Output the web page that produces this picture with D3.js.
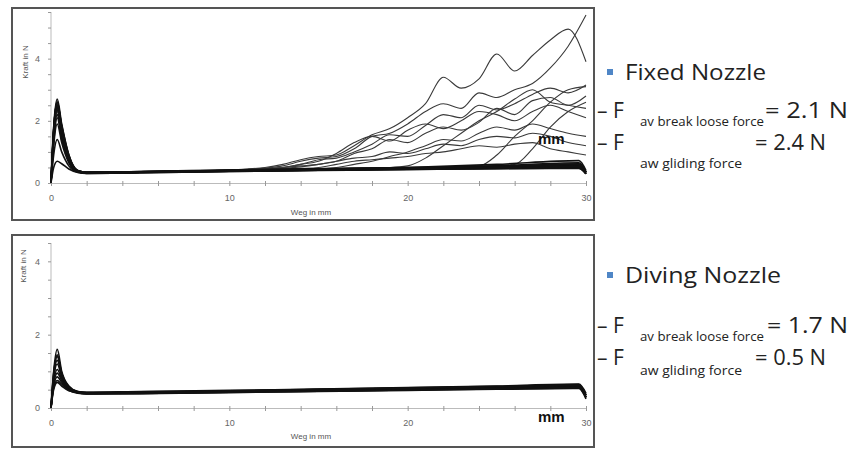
<!DOCTYPE html>
<html lang="de">
<head>
<meta charset="UTF-8">
<title>Fixed vs Diving Nozzle</title>
<style>
  body { margin: 0; background: #fff; }
  svg { display: block; font-family: "Open Sans", "Noto Sans", sans-serif; }
  .tick text { fill: #666; font-size: 9px; font-family: "Liberation Sans", Arial, sans-serif; }
  .tick line { stroke: #999; }
  .domain { stroke: #bbb; }
</style>
</head>
<body>
<svg id="chart" width="865" height="450"></svg>
<script src="https://d3js.org/d3.v7.min.js"></script>
<script>
// x grid (mm) for the bundle curves and for the curves that break away
const wegA = [0, 0.15, 0.35, 0.6, 1.0, 1.5, 2, 5, 10, 15, 20, 25, 29.6, 30];
const wegB = [0, 0.15, 0.35, 0.6, 1.0, 1.5, 2, 5, 10, 11, 12, 13, 14, 15, 16, 17, 18, 19, 20,
              21, 22, 23, 24, 25, 26, 27, 28, 29, 30];

// Fixed nozzle - main bundle (Kraft in N)
const fixedBundle = [
  [0, 1.8, 2.7, 1.9, 0.9, 0.4, 0.34, 0.36, 0.40, 0.43, 0.46, 0.48, 0.50, 0.32],
  [0, 1.7, 2.6, 1.8, 0.85, 0.38, 0.33, 0.35, 0.39, 0.42, 0.45, 0.47, 0.49, 0.3],
  [0, 1.6, 2.5, 1.7, 0.8, 0.37, 0.32, 0.34, 0.38, 0.41, 0.44, 0.47, 0.48, 0.3],
  [0, 1.6, 2.45, 1.75, 0.8, 0.39, 0.35, 0.37, 0.41, 0.45, 0.48, 0.52, 0.55, 0.35],
  [0, 1.5, 2.35, 1.6, 0.75, 0.36, 0.31, 0.33, 0.37, 0.40, 0.43, 0.46, 0.47, 0.3],
  [0, 1.4, 2.2, 1.5, 0.7, 0.38, 0.34, 0.36, 0.40, 0.44, 0.47, 0.51, 0.58, 0.35],
  [0, 1.3, 2.1, 1.4, 0.7, 0.37, 0.33, 0.35, 0.39, 0.43, 0.47, 0.55, 0.65, 0.35],
  [0, 1.2, 1.9, 1.3, 0.65, 0.36, 0.32, 0.35, 0.40, 0.45, 0.50, 0.60, 0.72, 0.4],
  [0, 0.9, 1.4, 1.0, 0.55, 0.35, 0.32, 0.34, 0.38, 0.42, 0.46, 0.52, 0.62, 0.35],
  [0, 0.5, 0.7, 0.62, 0.45, 0.34, 0.31, 0.33, 0.37, 0.41, 0.44, 0.48, 0.52, 0.3],
  [0, 1.75, 2.55, 1.85, 0.9, 0.4, 0.35, 0.37, 0.42, 0.46, 0.50, 0.54, 0.60, 0.35],
  [0, 1.65, 2.4, 1.65, 0.8, 0.37, 0.33, 0.35, 0.39, 0.43, 0.47, 0.50, 0.53, 0.3]
];

// Fixed nozzle - curves that rise after ~12 mm
const fixedRising = [
  [0, 1.8, 2.6, 1.8, 0.85, 0.39, 0.34, 0.37, 0.42, 0.45, 0.5, 0.6, 0.75, 0.85, 0.9, 1.2, 1.55, 1.75, 2.1, 2.55, 3.4, 3.05, 3.35, 4.15, 3.6, 4.1, 4.6, 4.95, 3.9],
  [0, 1.6, 2.4, 1.7, 0.8, 0.37, 0.33, 0.36, 0.42, 0.44, 0.48, 0.55, 0.7, 0.8, 0.85, 1.1, 1.5, 1.6, 1.9, 2.3, 2.55, 2.4, 2.9, 2.75, 3.0, 3.2, 3.7, 4.4, 5.4],
  [0, 1.5, 2.3, 1.6, 0.75, 0.36, 0.32, 0.35, 0.40, 0.42, 0.45, 0.5, 0.6, 0.75, 0.8, 1.0, 1.25, 1.55, 1.5, 1.85, 2.2, 2.1, 2.5, 2.35, 2.55, 2.85, 3.05, 2.9, 3.15],
  [0, 1.7, 2.5, 1.7, 0.8, 0.38, 0.33, 0.36, 0.41, 0.43, 0.46, 0.5, 0.6, 0.7, 0.95, 1.3, 1.5, 1.35, 1.7, 1.9, 1.75, 2.0, 2.3, 2.2, 2.0, 2.3, 2.5, 2.3, 2.1],
  [0, 1.4, 2.2, 1.5, 0.7, 0.37, 0.33, 0.35, 0.40, 0.42, 0.44, 0.47, 0.52, 0.6, 0.7, 0.95, 1.1, 1.4, 1.3, 1.6, 1.8, 1.7, 1.95, 2.4, 2.2, 2.65, 2.75, 2.5, 2.8],
  [0, 1.6, 2.45, 1.7, 0.8, 0.38, 0.34, 0.36, 0.41, 0.43, 0.46, 0.5, 0.55, 0.6, 0.7, 0.8, 0.85, 1.0, 0.95, 1.1, 1.25, 1.2, 1.4, 1.5, 1.45, 1.6, 1.5, 1.3, 1.2],
  [0, 1.5, 2.3, 1.6, 0.75, 0.37, 0.33, 0.35, 0.40, 0.41, 0.43, 0.45, 0.47, 0.5, 0.6, 0.7, 0.75, 0.8, 0.85, 0.95, 1.0, 1.1, 1.2, 1.15, 1.25, 1.3, 1.1, 1.0, 0.9],
  [0, 1.7, 2.55, 1.8, 0.85, 0.39, 0.34, 0.36, 0.40, 0.42, 0.43, 0.44, 0.45, 0.46, 0.47, 0.48, 0.49, 0.5, 0.55, 0.8, 1.2, 1.6, 2.0, 2.3, 2.7, 3.0, 2.6, 2.5, 2.4],
  [0, 1.6, 2.4, 1.7, 0.8, 0.37, 0.33, 0.35, 0.39, 0.40, 0.41, 0.42, 0.43, 0.44, 0.45, 0.46, 0.47, 0.48, 0.49, 0.5, 0.52, 0.54, 0.55, 0.9, 1.5, 2.0, 2.6, 3.0, 3.1],
  [0, 1.5, 2.35, 1.6, 0.75, 0.36, 0.32, 0.34, 0.38, 0.39, 0.40, 0.41, 0.42, 0.43, 0.44, 0.45, 0.46, 0.47, 0.48, 0.49, 0.5, 0.52, 0.54, 0.56, 0.6, 1.1, 1.8, 2.3, 2.6],
  [0, 1.8, 2.65, 1.85, 0.9, 0.4, 0.35, 0.37, 0.42, 0.43, 0.44, 0.45, 0.46, 0.47, 0.5, 0.6, 0.7, 0.85, 1.0, 1.2, 1.4, 1.35, 1.6, 1.8, 1.7, 1.9, 1.75, 1.6, 1.5]
];

// Diving nozzle - all curves stay low
const divingBundle = [
  [0, 1.0, 1.6, 1.0, 0.6, 0.45, 0.42, 0.43, 0.46, 0.50, 0.54, 0.58, 0.62, 0.35],
  [0, 0.9, 1.45, 0.95, 0.58, 0.44, 0.41, 0.42, 0.45, 0.49, 0.53, 0.57, 0.60, 0.3],
  [0, 0.85, 1.3, 0.9, 0.55, 0.43, 0.40, 0.42, 0.45, 0.48, 0.52, 0.56, 0.59, 0.3],
  [0, 0.8, 1.2, 0.85, 0.55, 0.45, 0.43, 0.45, 0.48, 0.52, 0.56, 0.60, 0.65, 0.4],
  [0, 0.7, 1.05, 0.8, 0.52, 0.42, 0.40, 0.41, 0.44, 0.47, 0.50, 0.54, 0.57, 0.3],
  [0, 0.65, 0.95, 0.75, 0.5, 0.41, 0.39, 0.40, 0.43, 0.46, 0.49, 0.52, 0.55, 0.3],
  [0, 0.6, 0.85, 0.7, 0.5, 0.44, 0.42, 0.44, 0.47, 0.51, 0.55, 0.59, 0.64, 0.35],
  [0, 0.55, 0.75, 0.65, 0.48, 0.40, 0.38, 0.39, 0.42, 0.45, 0.48, 0.51, 0.53, 0.25],
  [0, 0.5, 0.7, 0.6, 0.47, 0.43, 0.41, 0.43, 0.46, 0.50, 0.54, 0.58, 0.62, 0.35],
  [0, 0.95, 1.4, 0.95, 0.56, 0.42, 0.39, 0.40, 0.43, 0.46, 0.49, 0.53, 0.56, 0.28]
];

const xTickLabels = [0, 10, 20, 30];
const yTickLabels = [0, 2, 4];

const svg = d3.select("#chart");

// Draw one framed force/travel plot
const drawPanel = (opt) => {
  const g = svg.append("g");

  g.append("rect")
    .attr("x", opt.frame[0]).attr("y", opt.frame[1])
    .attr("width", opt.frame[2]).attr("height", opt.frame[3])
    .attr("fill", "#fff").attr("stroke", "#555").attr("stroke-width", 2);

  const x = d3.scaleLinear().domain([0, 30]).range([51, 586]);
  const y = d3.scaleLinear().domain([0, opt.yMax]).range([opt.y0, opt.yTop]);

  // axes
  g.append("g")
    .attr("transform", "translate(0," + opt.y0 + ")")
    .call(d3.axisBottom(x)
      .tickValues(d3.range(0, 31, 2))
      .tickSize(3).tickPadding(9)
      .tickFormat(d => xTickLabels.includes(d) ? d : ""))
    .call(a => a.selectAll(".tick line").attr("y1", -2));

  g.append("g")
    .attr("transform", "translate(51,0)")
    .call(d3.axisLeft(y)
      .tickValues(d3.range(0, opt.yMax + 0.01, 0.5))
      .tickSize(3).tickPadding(8)
      .tickFormat(d => yTickLabels.includes(d) ? d : ""))
    .call(a => a.select(".domain").attr("d", "M0," + opt.y0 + "V" + opt.yTop));

  g.append("text")
    .attr("transform", "translate(" + opt.yLabel[0] + "," + opt.yLabel[1] + ") rotate(-90)")
    .attr("text-anchor", "middle")
    .attr("font-family", "Liberation Sans, Arial, sans-serif")
    .attr("font-size", 8).attr("fill", "#555")
    .text("Kraft in N");

  g.append("text")
    .attr("x", 311).attr("y", opt.xLabelY)
    .attr("text-anchor", "middle")
    .attr("font-family", "Liberation Sans, Arial, sans-serif")
    .attr("font-size", 8).attr("fill", "#555")
    .text("Weg in mm");

  const lineA = d3.line().x((d, i) => x(wegA[i])).y(d => y(d)).curve(d3.curveMonotoneX);
  const lineB = d3.line().x((d, i) => x(wegB[i])).y(d => y(d)).curve(d3.curveMonotoneX);

  g.append("g").selectAll("path")
    .data(opt.rising)
    .join("path")
    .attr("d", lineB)
    .attr("fill", "none").attr("stroke", "#3a3a3a").attr("stroke-width", 1.1);

  g.append("g").selectAll("path")
    .data(opt.bundle)
    .join("path")
    .attr("d", lineA)
    .attr("fill", "none").attr("stroke", "#111").attr("stroke-width", 1.6);

  g.append("text")
    .attr("x", 538).attr("y", opt.mmY)
    .attr("font-family", "Liberation Sans, Arial, sans-serif")
    .attr("font-weight", "bold").attr("font-size", 15).attr("fill", "#111")
    .text("mm");
};

drawPanel({ frame: [12, 8, 582, 212], yMax: 5.5, y0: 183, yTop: 12,
  yLabel: [28, 62], xLabelY: 215, mmY: 144, bundle: fixedBundle, rising: fixedRising });
drawPanel({ frame: [12, 235, 582, 212], yMax: 4.5, y0: 408, yTop: 243,
  yLabel: [26, 266], xLabelY: 439, mmY: 422, bundle: divingBundle, rising: [] });

// Text block on the right (the slide font runs wider, so widths are fixed)
const notes = [
  { title: "Fixed Nozzle", titleY: 80, titleW: 141, rows: [
    { y: 118, sub: "av break loose force", subW: 124, subDy: 8, val: "= 2.1 N", valX: 765, valW: 83 },
    { y: 150, sub: "aw gliding force", subW: 102, subDy: 18, val: "= 2.4 N", valX: 755, valW: 71 } ] },
  { title: "Diving Nozzle", titleY: 283, titleW: 156, rows: [
    { y: 333, sub: "av break loose force", subW: 124, subDy: 8, val: "= 1.7 N", valX: 767, valW: 81 },
    { y: 365, sub: "aw gliding force", subW: 102, subDy: 10, val: "= 0.5 N", valX: 755, valW: 71 } ] }
];

notes.forEach(n => {
  svg.append("rect")
    .attr("x", 607).attr("y", n.titleY - 11).attr("width", 6).attr("height", 6)
    .attr("fill", "#4f86c6");
  svg.append("text")
    .attr("x", 625).attr("y", n.titleY)
    .attr("font-size", 21).attr("fill", "#222")
    .attr("textLength", n.titleW).attr("lengthAdjust", "spacingAndGlyphs")
    .text(n.title);
  n.rows.forEach(r => {
    svg.append("text")
      .attr("x", 597).attr("y", r.y)
      .attr("font-size", 21).attr("fill", "#222")
      .text("– F");
    svg.append("text")
      .attr("x", 640).attr("y", r.y + r.subDy)
      .attr("font-size", 13).attr("fill", "#222")
      .attr("textLength", r.subW).attr("lengthAdjust", "spacingAndGlyphs")
      .text(r.sub);
    svg.append("text")
      .attr("x", r.valX).attr("y", r.y)
      .attr("font-size", 21).attr("fill", "#222")
      .attr("textLength", r.valW).attr("lengthAdjust", "spacingAndGlyphs")
      .text(r.val);
  });
});
</script>
</body>
</html>
